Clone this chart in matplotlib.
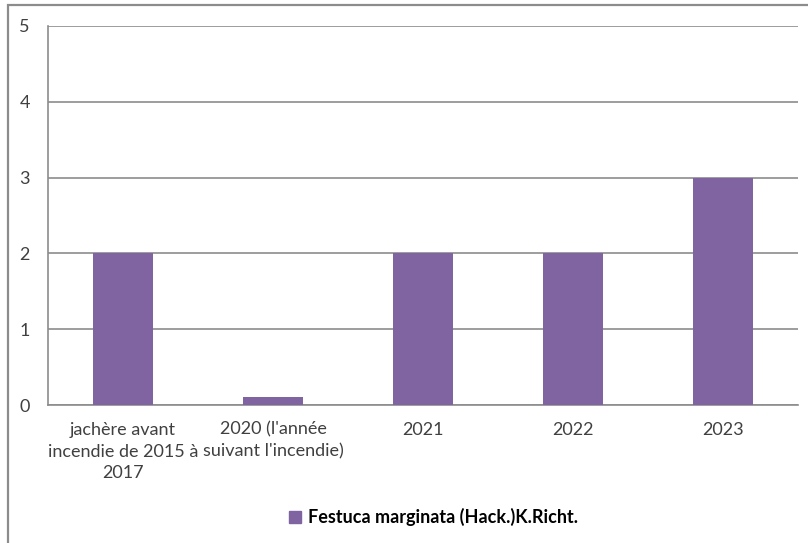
import matplotlib.pyplot as plt
import matplotlib.patches as mpatches
from matplotlib.lines import Line2D

categories = ["jachère avant\nincendie de 2015 à\n2017", "2020 (l'année\nsuivant l'incendie)",
              "2021", "2022", "2023"]
values = [2, 0.1, 2, 2, 3]
series_name = "Festuca marginata (Hack.)K.Richt."
bar_color = "#8064A2"

plt.rcParams['font.family'] = ['Lato', 'DejaVu Sans']

fig = plt.figure(figsize=(8.08, 5.43), dpi=100)
ax = fig.add_axes([48 / 808, 1 - 405 / 543, 750 / 808, (405 - 26) / 543])

x = range(len(categories))
ax.bar(x, values, width=0.4, color=bar_color, zorder=3)

ax.set_xlim(-0.5, len(categories) - 0.5)
ax.set_ylim(0, 5)
ax.set_yticks(range(0, 6))
ax.set_xticks(list(x))
ax.set_xticklabels(categories, fontsize=13, color="#404040", linespacing=1.45)
ax.tick_params(axis="y", length=0, pad=13, labelsize=13, labelcolor="#404040")
ax.tick_params(axis="x", length=0, pad=12)
ax.yaxis.grid(True, color="#8c8c8c", linewidth=1.2, zorder=0)

for side in ["top", "right"]:
    ax.spines[side].set_visible(False)
ax.spines["left"].set_color("#8c8c8c")
ax.spines["bottom"].set_color("#8c8c8c")
ax.spines["left"].set_linewidth(1.2)
ax.spines["bottom"].set_linewidth(1.2)

handle = Line2D([], [], marker="s", linestyle="none", color=bar_color, markersize=8)
fig.legend([handle], [series_name], loc="center", bbox_to_anchor=(432 / 808, 1 - 517 / 543),
           frameon=False, prop={"weight": "bold", "size": 13}, handletextpad=0.2,
           handlelength=1.0)

# outer chart border (only top and left visible in the reference)
fig.patches.append(mpatches.Rectangle((8 / 808, -0.1), 1.2, 1 - 5 / 543 + 0.1,
                                      transform=fig.transFigure, fill=False,
                                      edgecolor="#8c8c8c", linewidth=1.6))

fig.savefig("out.png", dpi=100)
